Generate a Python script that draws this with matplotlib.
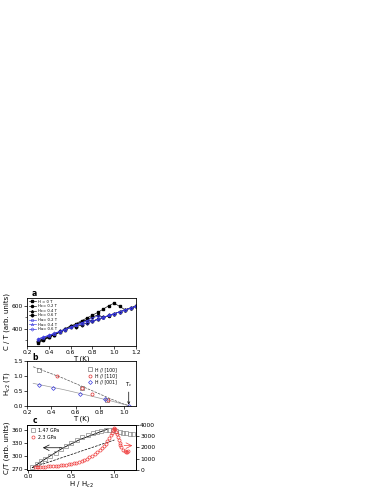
import matplotlib
matplotlib.use("Agg")
import matplotlib.pyplot as plt

# ---------------- panel a : C/T vs T ----------------
T_a = [0.30, 0.35, 0.40, 0.45, 0.50, 0.55, 0.60, 0.65, 0.70, 0.75,
       0.80, 0.85, 0.90, 0.95, 1.00, 1.05, 1.10, 1.15, 1.20]
ct_h0 = [270, 295, 320, 345, 370, 395, 420, 445, 470, 495,
         520, 545, 575, 605, 628, 598, 568, 585, 602]
ct_hc02 = [280, 300, 322, 345, 368, 390, 412, 435, 458, 480,
           503, 522, 500, 515, 533, 550, 567, 583, 600]
ct_hc04 = [285, 305, 325, 346, 366, 388, 410, 434, 462, 478,
           466, 483, 500, 517, 533, 550, 567, 583, 600]
ct_hc06 = [290, 310, 330, 352, 374, 398, 425, 415, 433, 450,
           467, 483, 500, 517, 533, 550, 567, 583, 600]
ct_ha02 = [300, 318, 336, 354, 372, 390, 410, 430, 450, 472,
           495, 512, 498, 517, 533, 550, 567, 583, 600]
ct_ha04 = [305, 321, 338, 355, 373, 391, 410, 430, 452, 470,
           466, 483, 500, 517, 533, 550, 567, 583, 600]
ct_ha06 = [308, 324, 340, 357, 375, 393, 412, 432, 440, 450,
           467, 483, 500, 517, 533, 550, 567, 583, 600]
labels_a = ["H = 0 T", "Hc= 0.2 T", "Hc= 0.4 T", "Hc= 0.6 T",
            "Ha= 0.2 T", "Ha= 0.4 T", "Ha= 0.6 T"]

# ---------------- panel b : Hc2 vs T ----------------
T_100 = [0.30, 0.65, 0.86]
H_100 = [1.20, 0.60, 0.20]
T_110 = [0.45, 0.65, 0.74, 0.87]
H_110 = [1.00, 0.60, 0.40, 0.20]
T_001 = [0.30, 0.41, 0.64, 0.84, 1.04]
H_001 = [0.69, 0.60, 0.39, 0.21, 0.00]
fit_T = [0.25, 0.50, 0.75, 0.90, 1.00, 1.04]
fit_hi = [1.31, 0.92, 0.48, 0.21, 0.05, 0.00]
fit_lo = [0.75, 0.54, 0.30, 0.15, 0.04, 0.00]
labels_b = ["H // [100]", "H // [110]", "H // [001]"]

# ---------------- panel c : C/T vs H/Hc2 ----------------
h_147 = [0.05, 0.10, 0.15, 0.20, 0.26, 0.32, 0.38, 0.44, 0.50, 0.57,
         0.63, 0.69, 0.75, 0.80, 0.85, 0.90, 0.94, 0.98, 1.02, 1.06,
         1.10, 1.14, 1.18, 1.22]
ct_147 = [274, 281, 288, 294, 301, 308, 315, 322, 329, 337,
          343, 349, 353, 356, 358, 359, 360, 359, 357, 355,
          353, 352, 351, 350]
line_h = [0.05, 0.20, 0.40, 0.60, 0.80, 0.92]
line_ct = [273, 293, 318, 338, 353, 362]
dash_h = [0.05, 1.00]
dash_ct = [273, 337]
h_23 = [0.08, 0.10, 0.12, 0.14, 0.17, 0.20, 0.23, 0.26, 0.29, 0.32,
        0.35, 0.38, 0.41, 0.44, 0.47, 0.50, 0.53, 0.56, 0.59, 0.62,
        0.65, 0.68, 0.71, 0.74, 0.77, 0.80, 0.83, 0.86, 0.88, 0.90,
        0.92, 0.94, 0.96, 0.97, 0.98, 0.99, 1.00, 1.01, 1.02, 1.03,
        1.04, 1.05, 1.06, 1.07, 1.08, 1.10, 1.12, 1.14, 1.15, 1.16]
cp_23 = [220, 240, 250, 260, 270, 285, 300, 315, 330, 350,
         370, 390, 420, 450, 490, 530, 580, 640, 710, 790,
         880, 990, 1110, 1250, 1400, 1570, 1760, 1980, 2150, 2330,
         2550, 2800, 3100, 3300, 3500, 3650, 3700, 3600, 3400, 3150,
         2900, 2650, 2400, 2200, 2000, 1800, 1650, 1580, 1600, 1700]
labels_c = ["1.47 GPa", "2.3 GPa"]

TICK_FS = 4.3
LAB_FS = 5.0

fig = plt.figure(figsize=(3.82, 4.94), dpi=100)


def style_axis(ax):
    ax.tick_params(labelsize=TICK_FS, length=2, width=0.5, pad=1.0,
                   direction="out")
    ax.tick_params(which="minor", length=1.2, width=0.4)
    for sp in ax.spines.values():
        sp.set_linewidth(0.6)


# panel a
ax_a = fig.add_axes([0.071, 0.300, 0.285, 0.097])
black_mk = ["s", "o", "^", "D"]
for y, mk, lab in zip([ct_h0, ct_hc02, ct_hc04, ct_hc06], black_mk, labels_a[:4]):
    ax_a.plot(T_a, y, color="black", marker=mk, ms=1.5, lw=0.45, label=lab)
blue_mk = ["s", "^", "D"]
for y, mk, lab in zip([ct_ha02, ct_ha04, ct_ha06], blue_mk, labels_a[4:]):
    ax_a.plot(T_a, y, color="#3a3adf", marker=mk, ms=1.7, lw=0.45,
              mfc="none", mew=0.4, label=lab)
ax_a.set_xlim(0.2, 1.2)
ax_a.set_ylim(245, 675)
ax_a.set_xticks([0.2, 0.4, 0.6, 0.8, 1.0, 1.2])
ax_a.set_yticks([400, 600])
ax_a.set_yticks([300, 500], minor=True)
ax_a.set_xlabel("T (K)", fontsize=LAB_FS, labelpad=0.3)
ax_a.set_ylabel("C / T (arb. units)", fontsize=LAB_FS, labelpad=1)
style_axis(ax_a)
ax_a.legend(loc="upper left", fontsize=2.7, frameon=False, handlelength=1.8,
            labelspacing=0.15, borderaxespad=0.3, handletextpad=0.5,
            borderpad=0.2)
ax_a.text(0.04, 1.0, "a", transform=ax_a.transAxes, fontsize=5.5,
          fontweight="bold", va="bottom")

# panel b
ax_b = fig.add_axes([0.071, 0.179, 0.285, 0.090])
ax_b.plot(fit_T, fit_hi, color="#555555", lw=0.5, ls="--")
ax_b.plot(fit_T, fit_lo, color="#999999", lw=0.5)
ax_b.plot(T_100, H_100, ls="none", marker="s", ms=2.2, mfc="none",
          mec="#777777", mew=0.5, label=labels_b[0])
ax_b.plot(T_110, H_110, ls="none", marker="o", ms=2.2, mfc="none",
          mec="#e03030", mew=0.5, label=labels_b[1])
ax_b.plot(T_001, H_001, ls="none", marker="D", ms=2.0, mfc="none",
          mec="#3a3adf", mew=0.5, label=labels_b[2])
ax_b.set_xlim(0.2, 1.1)
ax_b.set_ylim(0.0, 1.5)
ax_b.set_xticks([0.2, 0.4, 0.6, 0.8, 1.0])
ax_b.set_yticks([0.0, 0.5, 1.0, 1.5])
ax_b.set_xlabel("T (K)", fontsize=LAB_FS, labelpad=0.3)
ax_b.set_ylabel("H$_{c2}$ (T)", fontsize=LAB_FS, labelpad=1)
style_axis(ax_b)
ax_b.legend(loc="upper right", bbox_to_anchor=(0.86, 0.96), fontsize=3.3,
            frameon=False, handlelength=1.0, labelspacing=0.3,
            handletextpad=0.6)
ax_b.annotate("T$_c$", xy=(1.04, 0.03), xytext=(1.04, 0.55),
              fontsize=4, ha="center", va="bottom",
              arrowprops=dict(arrowstyle="->", lw=0.5, color="black",
                              shrinkA=0, shrinkB=0))
ax_b.text(0.05, 0.99, "b", transform=ax_b.transAxes, fontsize=5.5,
          fontweight="bold", va="bottom")

# panel c
ax_c = fig.add_axes([0.071, 0.049, 0.285, 0.091])
ax_c.plot(line_h, line_ct, color="black", lw=0.6)
ax_c.plot(dash_h, dash_ct, color="black", lw=0.5, ls="--")
ax_c.plot(h_147, ct_147, ls="none", marker="s", ms=2.2, mfc="none",
          mec="#888888", mew=0.5, label=labels_c[0])
ax_c.set_xlim(-0.01, 1.25)
ax_c.set_ylim(268, 372)
ax_c.set_xticks([0.0, 0.5, 1.0])
ax_c.set_yticks([270, 300, 330, 360])
ax_c.set_xlabel("H / H$_{c2}$", fontsize=LAB_FS, labelpad=0.3)
ax_c.set_ylabel("C/T (arb. units)", fontsize=LAB_FS, labelpad=1)
style_axis(ax_c)
ax_c.annotate("", xy=(0.14, 319), xytext=(0.42, 319),
              arrowprops=dict(arrowstyle="->", lw=0.5, color="black"))

ax_c2 = ax_c.twinx()
ax_c2.plot(h_23, cp_23, ls="none", marker="o", ms=2.2, mfc="none",
           mec="#f04040", mew=0.5, label=labels_c[1])
ax_c2.set_ylim(0, 4000)
ax_c2.set_yticks([0, 1000, 2000, 3000, 4000])
style_axis(ax_c2)
ax_c2.annotate("", xy=(1.24, 2150), xytext=(1.08, 2150),
               arrowprops=dict(arrowstyle="->", lw=0.5, color="#f04040"))
h1, l1 = ax_c.get_legend_handles_labels()
h2, l2 = ax_c2.get_legend_handles_labels()
ax_c2.legend(h1 + h2, l1 + l2, loc="upper left", fontsize=3.4,
             frameon=False, handlelength=1.0, labelspacing=0.3,
             borderaxespad=0.3, handletextpad=0.6)
ax_c.text(0.05, 0.99, "c", transform=ax_c.transAxes, fontsize=5.5,
          fontweight="bold", va="bottom")

plt.savefig("out.png", dpi=100)
